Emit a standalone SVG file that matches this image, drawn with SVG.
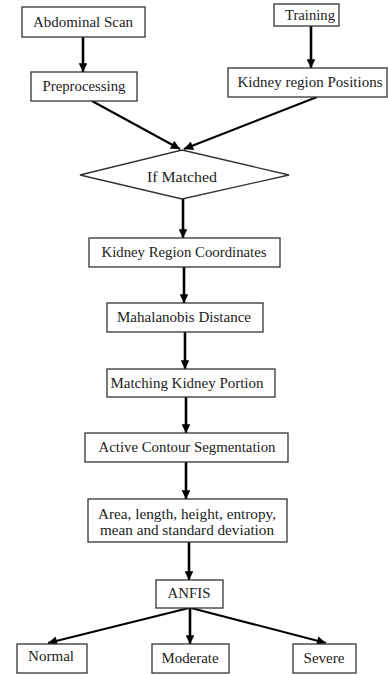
<svg xmlns="http://www.w3.org/2000/svg" width="388" height="675" viewBox="0 0 388 675">
<defs>
<marker id="ah" viewBox="0 0 10 10" refX="10" refY="5" markerWidth="3.4" markerHeight="3.4" orient="auto" markerUnits="strokeWidth">
<path d="M0,0 L10,5 L0,10 Z" fill="#000"/>
</marker>
<marker id="ah2" viewBox="0 0 10 10" refX="10" refY="5" markerWidth="5" markerHeight="4.5" orient="auto" markerUnits="strokeWidth">
<path d="M0,0 L10,5 L0,10 Z" fill="#000"/>
</marker>
</defs>
<style>
.n rect, .n polygon { fill: #fff; stroke: #333; stroke-width: 1.3; }
text { font-family: "Liberation Serif", "Times New Roman", serif; font-size: 14px; fill: #222; text-anchor: middle; }
.c { stroke: #000; stroke-width: 2.6; fill: none; marker-end: url(#ah); }
.d { stroke: #000; stroke-width: 2; fill: none; marker-end: url(#ah2); }
</style>
<rect width="388" height="675" style="fill:#fff;stroke:none"/>
<g id="connectors">
<line class="c" x1="83" y1="37" x2="83" y2="72"/>
<line class="c" x1="311" y1="26" x2="311" y2="68"/>
<line class="d" x1="92" y1="101" x2="180" y2="149"/>
<line class="d" x1="317" y1="97" x2="184" y2="149"/>
<line class="c" x1="183" y1="199" x2="183" y2="238"/>
<line class="c" x1="184" y1="267" x2="184" y2="303"/>
<line class="c" x1="185" y1="332" x2="185" y2="369"/>
<line class="c" x1="186" y1="397" x2="186" y2="433"/>
<line class="c" x1="186" y1="462" x2="186" y2="499"/>
<line class="c" x1="189" y1="542" x2="189" y2="580"/>
<line class="d" x1="189" y1="608" x2="48" y2="643"/>
<line class="c" x1="190" y1="608" x2="190" y2="644"/>
<line class="d" x1="191" y1="608" x2="326" y2="643"/>
</g>
<g id="abdominal-scan" class="n"><rect x="22" y="7" width="123" height="30"/><text x="83" y="26.5" textLength="100" lengthAdjust="spacingAndGlyphs">Abdominal Scan</text></g>
<g id="training" class="n"><rect x="274" y="4" width="65" height="22"/><text x="310" y="20" textLength="50" lengthAdjust="spacingAndGlyphs">Training</text></g>
<g id="preprocessing" class="n"><rect x="31" y="72" width="106" height="29"/><text x="84" y="91" textLength="83" lengthAdjust="spacingAndGlyphs">Preprocessing</text></g>
<g id="kidney-region-positions" class="n"><rect x="228" y="68" width="159" height="29"/><text x="310" y="87" textLength="145" lengthAdjust="spacingAndGlyphs">Kidney region Positions</text></g>
<g id="if-matched" class="n"><polygon points="182,150 289,175 182,199 80,175"/><text x="182" y="182" textLength="70" lengthAdjust="spacingAndGlyphs">If Matched</text></g>
<g id="kidney-region-coordinates" class="n"><rect x="89" y="238" width="191" height="29"/><text x="184" y="257" textLength="165" lengthAdjust="spacingAndGlyphs">Kidney Region Coordinates</text></g>
<g id="mahalanobis-distance" class="n"><rect x="107" y="303" width="156" height="29"/><text x="184" y="322" textLength="134" lengthAdjust="spacingAndGlyphs">Mahalanobis Distance</text></g>
<g id="matching-kidney-portion" class="n"><rect x="107" y="369" width="168" height="28"/><text x="187" y="387.5" textLength="153" lengthAdjust="spacingAndGlyphs">Matching Kidney Portion</text></g>
<g id="active-contour-segmentation" class="n"><rect x="85" y="433" width="203" height="29"/><text x="187" y="452" textLength="177" lengthAdjust="spacingAndGlyphs">Active Contour Segmentation</text></g>
<g id="features" class="n"><rect x="88" y="499" width="199" height="43"/><text x="187" y="519" textLength="178" lengthAdjust="spacingAndGlyphs">Area, length, height, entropy,</text><text x="187" y="535" textLength="174" lengthAdjust="spacingAndGlyphs">mean and standard deviation</text></g>
<g id="anfis" class="n"><rect x="156" y="580" width="67" height="28"/><text x="189" y="598" textLength="43" lengthAdjust="spacingAndGlyphs">ANFIS</text></g>
<g id="normal" class="n"><rect x="17" y="644" width="70" height="29"/><text x="51" y="661" textLength="46" lengthAdjust="spacingAndGlyphs">Normal</text></g>
<g id="moderate" class="n"><rect x="152" y="644" width="77" height="29"/><text x="190" y="663" textLength="57" lengthAdjust="spacingAndGlyphs">Moderate</text></g>
<g id="severe" class="n"><rect x="293" y="644" width="63" height="29"/><text x="324" y="663" textLength="41" lengthAdjust="spacingAndGlyphs">Severe</text></g>
</svg>
